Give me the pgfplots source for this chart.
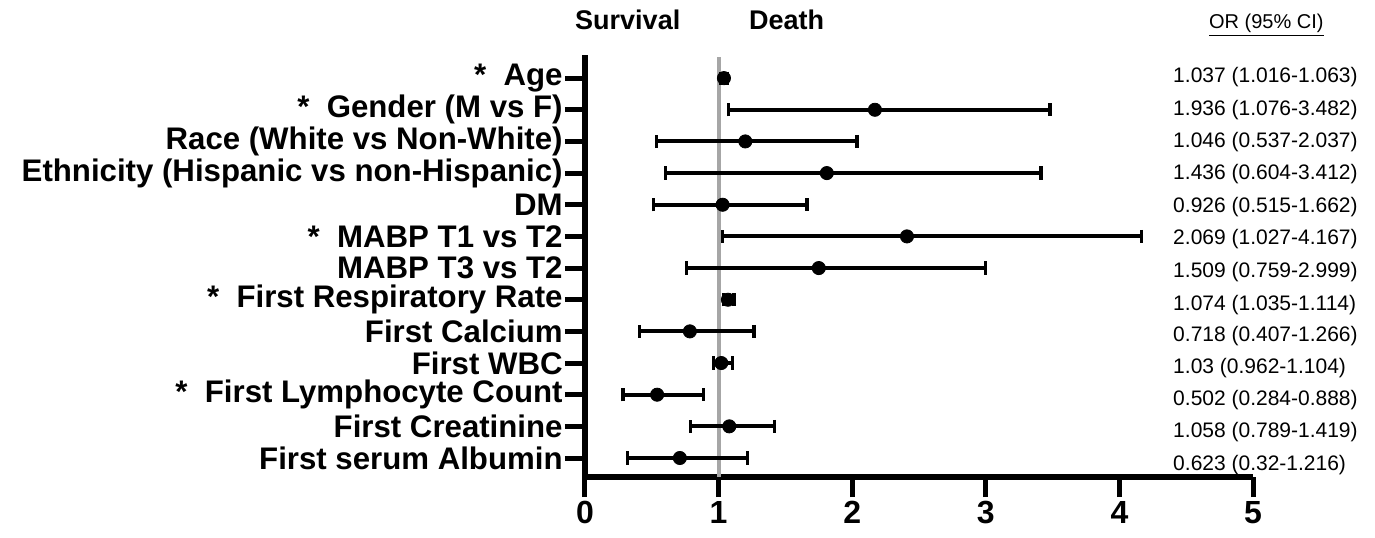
\documentclass[border=0pt]{standalone}
\usepackage{fontspec}
\setmainfont{Liberation Sans}
\usepackage{pgfplots}
\usepackage{pgfplotstable}
\pgfplotsset{compat=1.18}
\definecolor{refline}{HTML}{A6A6A6}

% y = row (13 = top), pt = plotted estimate, lo/hi = 95% CI
\pgfplotstableread{
y   pt    lo    hi
13  1.04  1.016 1.063
12  2.17  1.076 3.482
11  1.20  0.537 2.037
10  1.81  0.604 3.412
9   1.03  0.515 1.662
8   2.41  1.027 4.167
7   1.75  0.759 2.999
6   1.07  1.035 1.114
5   0.785 0.407 1.266
4   1.02  0.962 1.104
3   0.54  0.284 0.888
2   1.08  0.789 1.419
1   0.71  0.32  1.216
}\ordata

\begin{document}
\begin{tikzpicture}
\begin{axis}[
  scale only axis,
  width=334pt, height=211pt,
  xmin=0, xmax=5, ymin=0.4, ymax=13.73,
  axis x line=bottom, axis y line=left,
  axis line style={-, line width=3pt, black},
  xtick={0,1,2,3,4,5},
  ytick={1,...,13},
  yticklabels={First serum Albumin, First Creatinine, {*\ \ First Lymphocyte Count}, First WBC, First Calcium,
    {*\ \ First Respiratory Rate}, MABP T3 vs T2, {*\ \ MABP T1 vs T2}, DM,
    Ethnicity (Hispanic vs non-Hispanic), Race (White vs Non-White), {*\ \ Gender (M vs F)}, {*\ \ Age}},
  tick align=outside,
  major tick length=10pt,
  tick style={line width=2.5pt, black},
  minor tick num=0,
  /pgf/number format/assume math mode=true,
  xticklabel style={font=\fontsize{16}{16}\selectfont\bfseries, inner sep=2pt},
  yticklabel style={font=\fontsize{15.6}{15.6}\selectfont\bfseries, inner sep=1pt},
  clip=false,
]
\addplot[refline, line width=2pt] coordinates {(1,0.4) (1,13.66)};

\addplot[only marks, mark=*, mark size=3.3pt, black,
  error bars/.cd, x dir=both, x explicit,
  error mark=|,
  error bar style={line width=2pt, black},
  error mark options={line width=1.7pt, mark size=3.3pt, black}]
  table[x=pt, y=y,
    x error plus expr=\thisrow{hi}-\thisrow{pt},
    x error minus expr=\thisrow{pt}-\thisrow{lo}] {\ordata};

\node[font=\fontsize{13.5}{13.5}\selectfont\bfseries] at (axis cs:0.32,14.83) {Survival};
\node[font=\fontsize{13.5}{13.5}\selectfont\bfseries] at (axis cs:1.51,14.83) {Death};
\node[font=\fontsize{10}{10}\selectfont] at (axis cs:5.10,14.68) {\underline{OR (95\% CI)}};

\begin{scope}[every node/.style={anchor=west, font=\fontsize{10.5}{10.5}\selectfont, inner sep=0pt}]
\node at (axis cs:4.40,13.03) {1.037 (1.016-1.063)};
\node at (axis cs:4.40,11.99) {1.936 (1.076-3.482)};
\node at (axis cs:4.40,10.98) {1.046 (0.537-2.037)};
\node at (axis cs:4.40,9.97) {1.436 (0.604-3.412)};
\node at (axis cs:4.40,8.93) {0.926 (0.515-1.662)};
\node at (axis cs:4.40,7.92) {2.069 (1.027-4.167)};
\node at (axis cs:4.40,6.88) {1.509 (0.759-2.999)};
\node at (axis cs:4.40,5.83) {1.074 (1.035-1.114)};
\node at (axis cs:4.40,4.85) {0.718 (0.407-1.266)};
\node at (axis cs:4.40,3.84) {1.03 (0.962-1.104)};
\node at (axis cs:4.40,2.83) {0.502 (0.284-0.888)};
\node at (axis cs:4.40,1.82) {1.058 (0.789-1.419)};
\node at (axis cs:4.40,0.78) {0.623 (0.32-1.216)};
\end{scope}

\coordinate (bl) at (rel axis cs:0,0);
\end{axis}
\pgfresetboundingbox
\path (bl) ++(-292.5pt,-30pt) rectangle ++(687.5pt,268.5pt);
\end{tikzpicture}
\end{document}
